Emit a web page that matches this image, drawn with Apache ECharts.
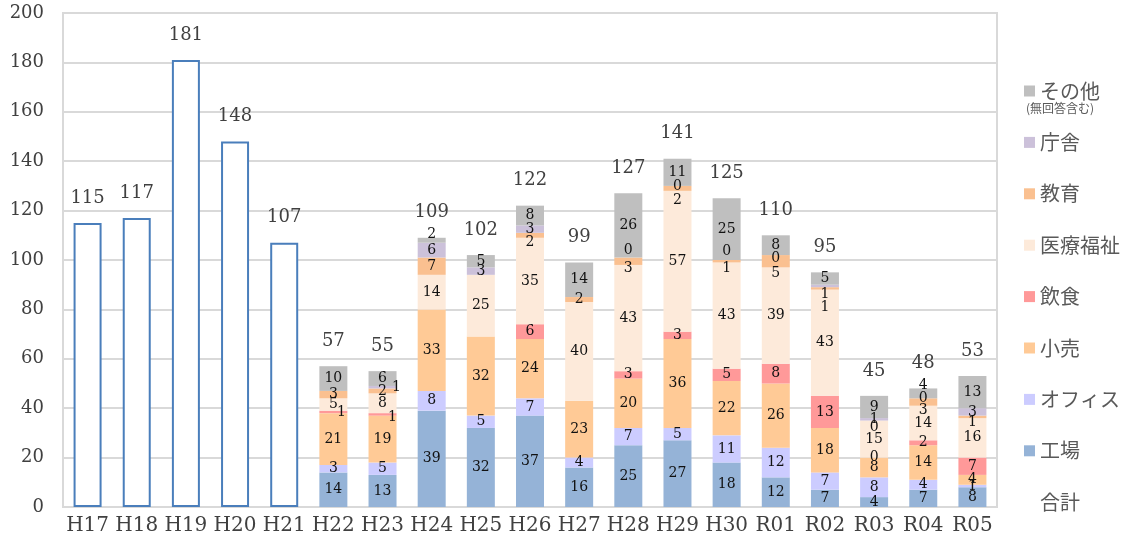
<!DOCTYPE html>
<html>
<head>
<meta charset="utf-8">
<script src="https://cdn.jsdelivr.net/npm/echarts@6/dist/echarts.min.js"></script>
<style>
  html, body { margin: 0; padding: 0; background: #fff; }
  #chart { width: 1131px; height: 546px; }
</style>
</head>
<body>
<div id="chart"></div>
<script>
// Fiscal years
const categories = ['H17','H18','H19','H20','H21','H22','H23','H24','H25','H26','H27','H28','H29','H30','R01','R02','R03','R04','R05'];

// Yearly totals (the first five years only have a total)
const totals = [115,117,181,148,107,57,55,109,102,122,99,127,141,125,110,95,45,48,53];

// Breakdown by building type (null = no entry for that year)
const factory    = [null,null,null,null,null,14,13,39,32,37,16,25,27,18,12,7,4,7,8];
const office     = [null,null,null,null,null,3,5,8,5,7,4,7,5,11,12,7,8,4,1];
const retail     = [null,null,null,null,null,21,19,33,32,24,23,20,36,22,26,18,8,14,4];
const food       = [null,null,null,null,null,1,1,null,null,6,null,3,3,5,8,13,0,2,7];
const medical    = [null,null,null,null,null,5,8,14,25,35,40,43,57,43,39,43,15,14,16];
const education  = [null,null,null,null,null,3,2,7,null,2,2,3,2,1,5,1,0,3,1];
const government = [null,null,null,null,null,null,1,6,3,3,null,0,0,0,0,1,1,0,3];
const other      = [null,null,null,null,null,10,6,2,5,8,14,26,11,25,8,5,9,4,13];

const SERIF = "'DejaVu Serif', 'Liberation Serif', serif";
const JP = "'Noto Sans CJK JP', 'Noto Sans', sans-serif";

// Small segments: move their labels apart so thin slices stay readable ([dx, dy] in px)
const labelNudge = {
  '飲食':   { H22: [8, 0], H23: [10, 3] },
  '教育':   { H26: [0, 7], H28: [0, 7], H29: [0, 12], H30: [0, 7], R01: [0, 12],
              R02: [0, 19], R03: [0, 7], R04: [0, 8], R05: [0, 6] },
  '庁舎':   { H23: [14, 0], H28: [0, -7], H30: [0, -9], R01: [0, 3], R02: [0, 8] },
  'その他': { H24: [0, -6], R04: [0, -8] }
};

const stackDefs = [
  { name: '工場',     data: factory,    color: '#95B3D7' },
  { name: 'オフィス', data: office,     color: '#CCCCFF' },
  { name: '小売',     data: retail,     color: '#FFCA96' },
  { name: '飲食',     data: food,       color: '#FF9999' },
  { name: '医療福祉', data: medical,    color: '#FDEADA' },
  { name: '教育',     data: education,  color: '#FAC090' },
  { name: '庁舎',     data: government, color: '#CCC1DA' },
  { name: 'その他',   data: other,      color: '#BFBFBF' }
];

const series = stackDefs.map(d => {
  const nudges = labelNudge[d.name] || {};
  const items = d.data.map((v, i) => {
    const off = nudges[categories[i]];
    return off ? { value: v, label: { offset: off } } : v;
  });
  return {
    name: d.name,
    type: 'bar',
    stack: 'breakdown',
    barWidth: 28,
    data: items,
    itemStyle: { color: d.color },
    label: {
      show: true,
      position: 'inside',
      fontFamily: SERIF,
      fontSize: 14,
      color: '#111',
      formatter: p => (p.value == null ? '' : String(p.value))
    },
    emphasis: { disabled: true }
  };
});

// Total: hollow outlined bars for years without breakdown, label only otherwise
const totalData = totals.map((v, i) => {
  const hasBreakdown = factory[i] != null;
  return hasBreakdown
    ? { value: v, itemStyle: { color: 'rgba(0,0,0,0)', borderWidth: 0 } }
    : { value: v, itemStyle: { color: '#fff', borderColor: '#4A7EBB', borderWidth: 2 } };
});

series.push({
  name: '合計',
  type: 'bar',
  barWidth: 28,
  barGap: '-100%',
  z: 1,
  data: totalData,
  label: {
    show: true,
    position: 'top',
    distance: 16,
    fontFamily: SERIF,
    fontSize: 18,
    color: '#404040'
  },
  emphasis: { disabled: true }
});

const legendOrder = ['その他','庁舎','教育','医療福祉','飲食','小売','オフィス','工場'];

const chart = echarts.init(document.getElementById('chart'), null, { renderer: 'canvas' });
chart.setOption({
  animation: false,
  backgroundColor: '#fff',
  grid: {
    left: 63, right: 134, top: 13, bottom: 39,
    show: true, borderColor: '#D9D9D9', borderWidth: 2, backgroundColor: 'transparent'
  },
  legend: {
    orient: 'vertical',
    left: 1024,
    top: 81,
    padding: 0,
    itemWidth: 11,
    itemHeight: 11,
    itemGap: 31.4,
    icon: 'rect',
    textStyle: { fontFamily: JP, fontSize: 20, color: '#595959' },
    data: legendOrder.map(n => ({ name: n }))
      .concat([{ name: '合計', itemStyle: { color: 'rgba(0,0,0,0)', borderWidth: 0 } }])
  },
  xAxis: {
    type: 'category',
    data: categories,
    axisTick: { show: false },
    axisLine: { lineStyle: { color: '#D9D9D9', width: 2 } },
    axisLabel: { interval: 0, fontFamily: SERIF, fontSize: 20, color: '#404040', margin: 9 }
  },
  yAxis: {
    type: 'value',
    min: 0, max: 200, interval: 20,
    axisLine: { show: false },
    axisTick: { show: false },
    splitLine: { lineStyle: { color: '#D9D9D9', width: 2 } },
    axisLabel: { fontFamily: SERIF, fontSize: 18, color: '#404040', margin: 19 }
  },
  graphic: [{
    type: 'text',
    left: 1026,
    top: 102,
    style: { text: '(無回答含む)', fontFamily: JP, fontSize: 12, fill: '#595959' }
  }],
  series: series
});
</script>
</body>
</html>
